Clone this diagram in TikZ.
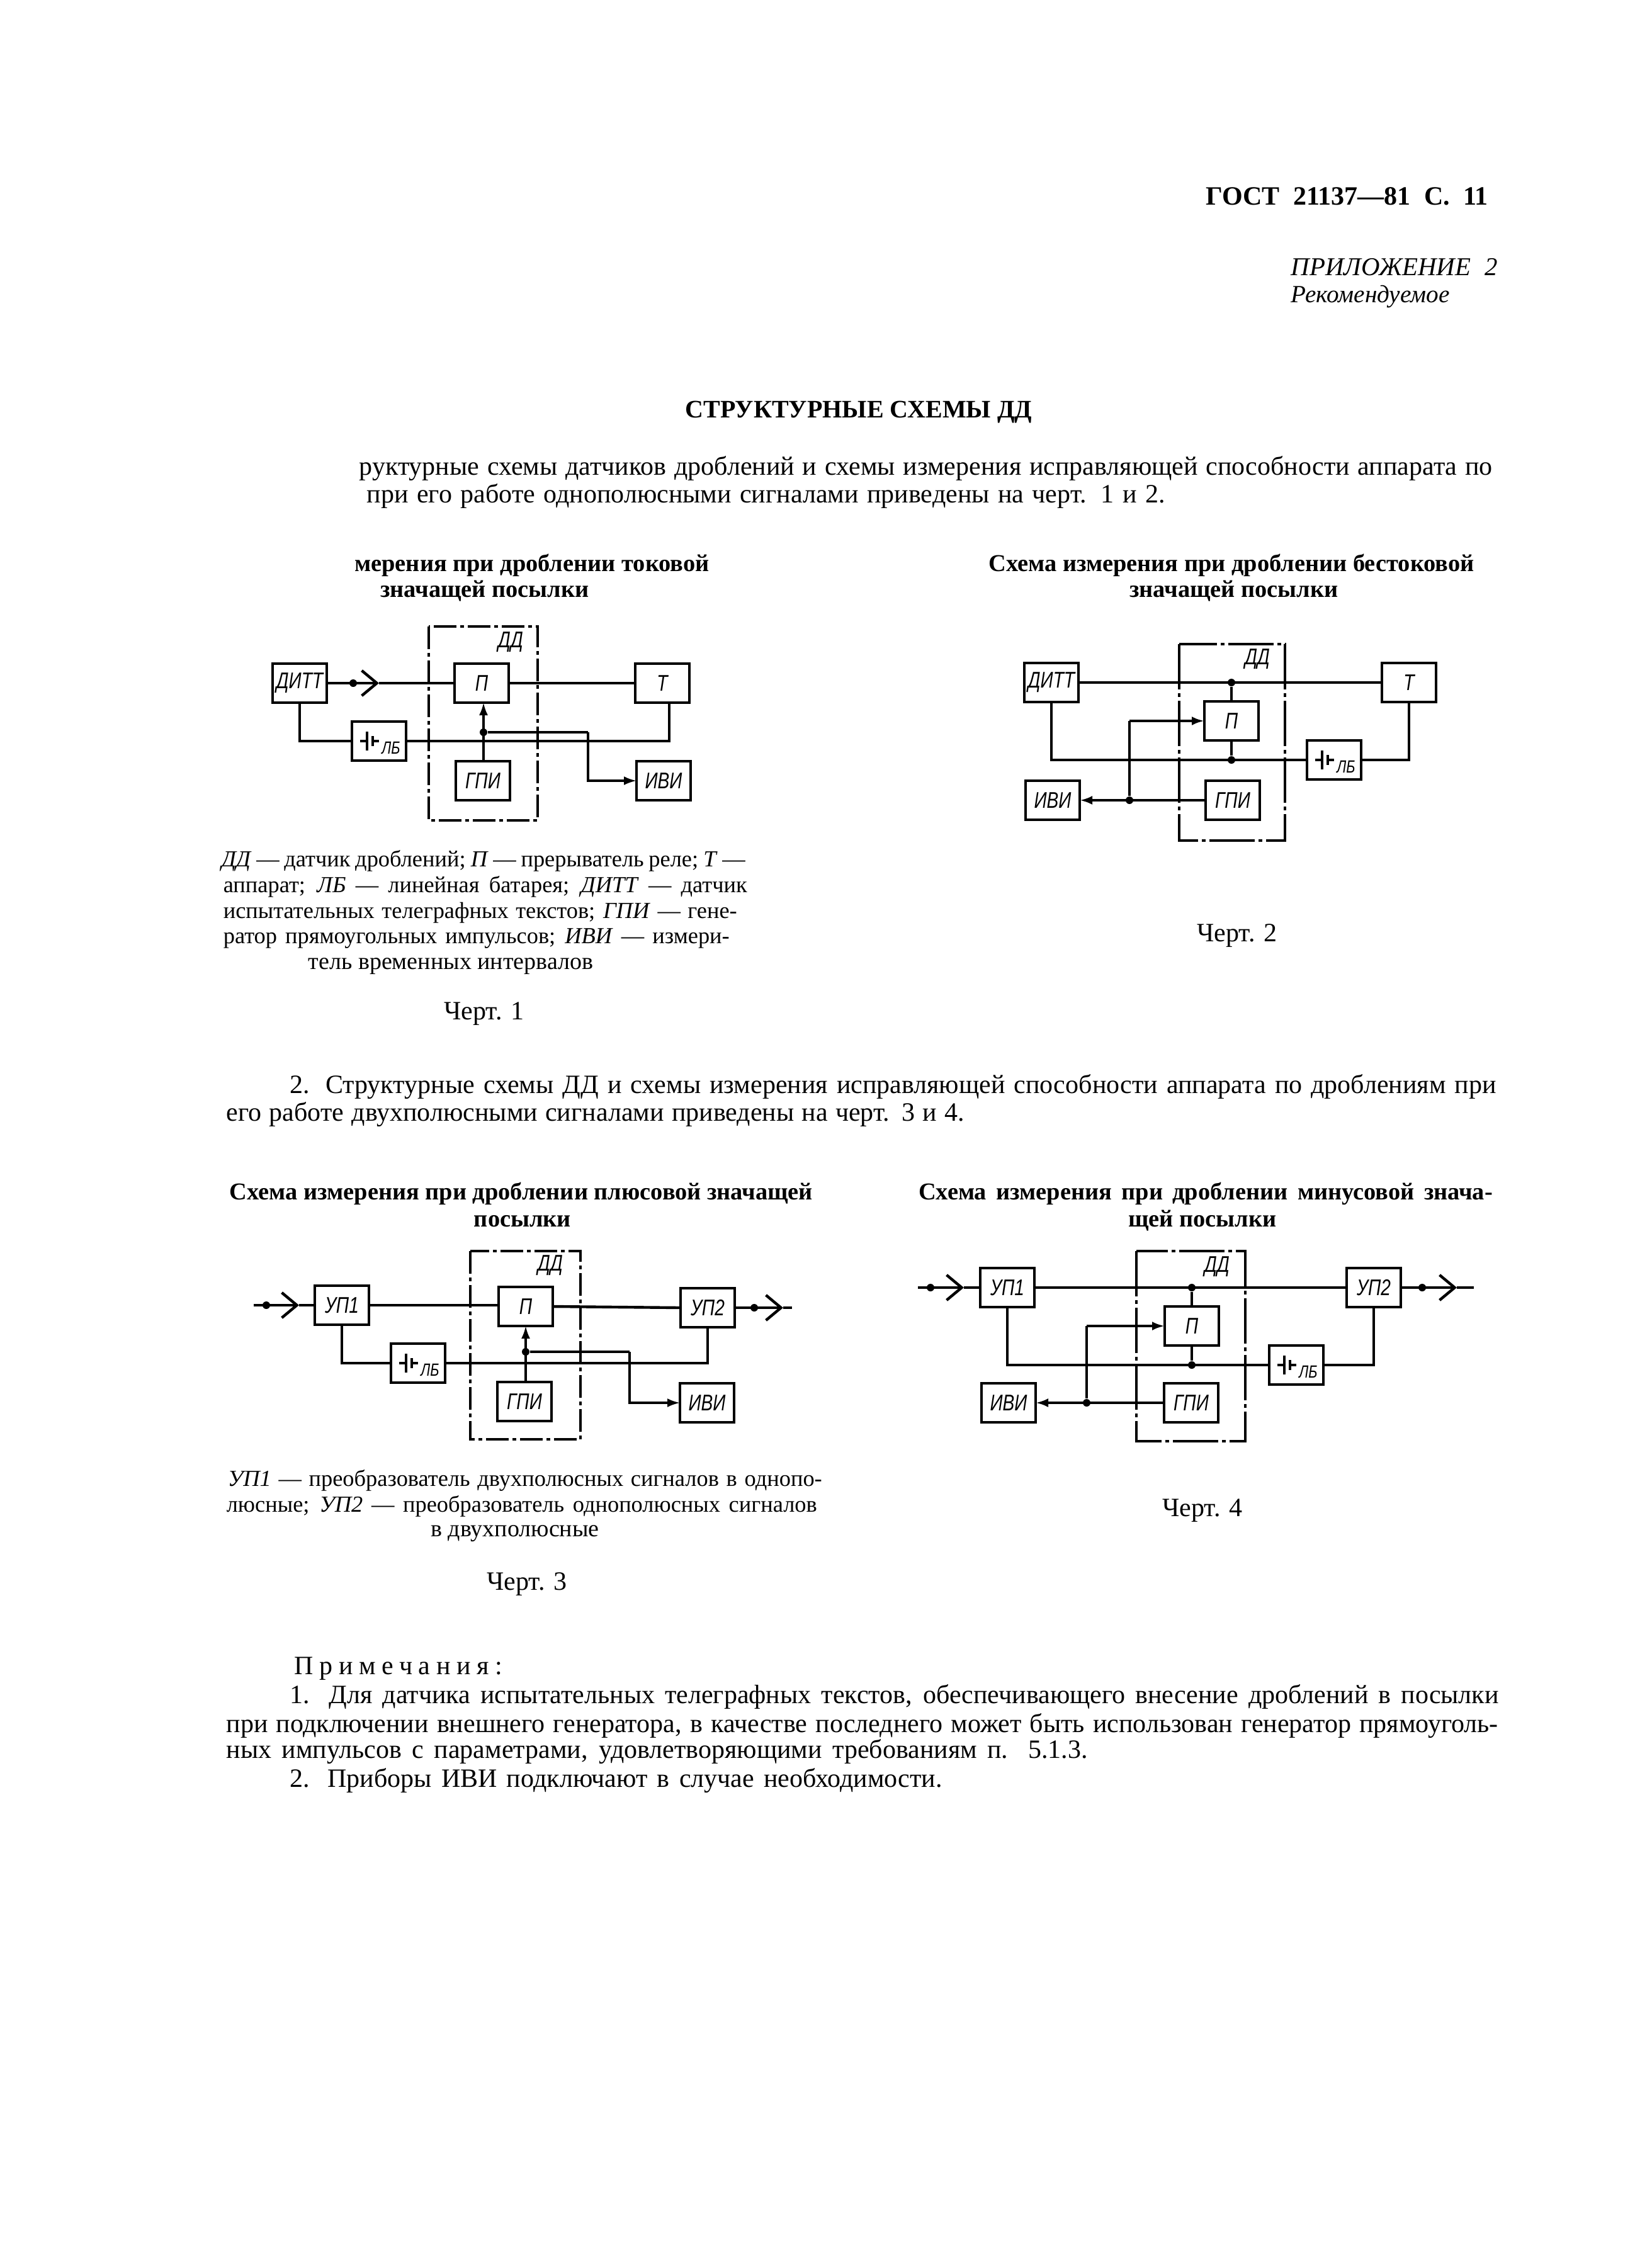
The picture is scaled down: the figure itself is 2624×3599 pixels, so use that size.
\documentclass[tikz,border=0pt]{standalone}
\usepackage{fontspec}
\setmainfont{Liberation Serif}
\newfontfamily\boxfont[FakeStretch=0.78]{Liberation Sans}
\newfontfamily\razrfont[LetterSpace=23]{Liberation Serif}
\usetikzlibrary{arrows.meta}
\newcommand{\rasp}[2]{\makebox[#1pt][s]{#2}}
\tikzset{
  blok/.style={draw, line width=1.2pt, minimum width=21.5pt, minimum height=15.5pt, inner sep=0pt, outer sep=0pt,
    font=\boxfont\itshape\fontsize{9}{10}\selectfont},
  ramka/.style={line width=0.8pt, dash pattern=on 9pt off 1.5pt on 1.5pt off 1.5pt},
  ramkb/.style={line width=0.8pt, dash pattern=on 18pt off 1.5pt on 1.5pt off 1.5pt},
  svyaz/.style={line width=1.1pt},
  tonk/.style={line width=0.8pt},
  tochka/.style={circle, fill=black, inner sep=0pt, minimum size=3pt},
  strelka/.style={-{Latex[length=5pt,width=3.5pt]}},
  ugol/.style={-{Straight Barb[length=6pt,width=10pt]}},
  stroka/.style={anchor=base west, inner sep=0pt, font=\fontsize{10.5}{12}\selectfont},
  legenda/.style={anchor=base west, inner sep=0pt, font=\fontsize{9.1}{11}\selectfont},
  sredina/.style={anchor=base, inner sep=0pt, font=\fontsize{9.5}{11}\selectfont},
  chert/.style={anchor=base, inner sep=0pt, font=\fontsize{10.5}{12}\selectfont},
  nazv/.style={anchor=base, inner sep=0pt, font=\bfseries\fontsize{9.6}{11}\selectfont},
  metka/.style={inner sep=0pt, font=\boxfont\itshape\fontsize{9}{10}\selectfont},
  batareya/.pic={
    \draw[tonk] (-30,0) -- (-19,0);
    \draw[tonk] (-19,-15) -- (-19,15);
    \draw[tonk] (-10,-8) -- (-10,8);
    \draw[tonk] (-10,0) -- (0,0);
    \node[metka, font=\boxfont\itshape\fontsize{7}{8}\selectfont] (-lbl) at (19,11) {ЛБ};
  }
}
\begin{document}
\begin{tikzpicture}[x=0.25pt, y=-0.25pt]
\useasboundingbox (0,0) rectangle (2624,3599);
% page head
\node[stroka, font=\bfseries\fontsize{10.5}{12}\selectfont] (gost) at (1915,325) {\rasp{112}{ГОСТ 21137—81 С. 11}};
\node[stroka, font=\itshape\fontsize{10.2}{12}\selectfont] (pril) at (2050,437) {\rasp{82}{ПРИЛОЖЕНИЕ 2}};
\node[stroka, font=\itshape\fontsize{9.8}{11}\selectfont] (rek) at (2050,480) {Рекомендуемое};
\node[nazv, font=\bfseries\fontsize{10}{12}\selectfont] (zag) at (1364,663) {СТРУКТУРНЫЕ СХЕМЫ ДД};
\node[stroka] (par1a) at (570,754) {\rasp{450}{руктурные схемы датчиков дроблений и схемы измерения исправляющей способности аппарата по}};
\node[stroka] (par1b) at (582,798) {\rasp{317}{при его работе однополюсными сигналами приведены на черт. 1 и 2.}};
%
% scheme 1
\node[nazv] (t1a) at (845,907) {мерения при дроблении токовой};
\node[nazv] (t1b) at (770,948) {значащей посылки};
\draw[ramka] (681,995) rectangle (854,1303);
\node[metka] (dd1) at (811,1020) {ДД};
\node[blok] (ditt1) at (476,1085) {ДИТТ};
\node[blok] (p1) at (765,1085) {П};
\node[blok] (t1) at (1052,1085) {Т};
\node[blok] (lb1) at (602,1177) {};
\pic (bat1) at (lb1) {batareya};
\node[blok] (gpi1) at (767,1240) {ГПИ};
\node[blok] (ivi1) at (1054,1240) {ИВИ};
\node[tochka] (a1) at (561,1085) {};
\node[tochka] (b1) at (768,1163) {};
\coordinate (k1) at (602,1085);
\coordinate (c1) at (934,1163);
\draw[svyaz, ugol] (ditt1.east) -- (k1);
\draw[svyaz] (k1) -- (p1.west);
\draw[svyaz] (p1.east) -- (t1.west);
\draw[tonk] (ditt1.south) |- (lb1.west);
\draw[svyaz] (lb1.east) -| ([xshift=2.75pt]t1.south);
\draw[tonk, strelka] (gpi1.north -| b1) -- (p1.south -| b1);
\draw[svyaz] (b1) -- (c1);
\draw[tonk, strelka] (c1) |- (ivi1.west);
%
% scheme 2
\node[nazv] (t2a) at (1956,907) {Схема измерения при дроблении бестоковой};
\node[nazv] (t2b) at (1960,948) {значащей посылки};
\draw[ramkb] (1873,1023) rectangle (2041,1335);
\node[metka] (dd2) at (1997,1047) {ДД};
\node[blok] (ditt2) at (1670,1084) {ДИТТ};
\node[blok] (t2) at (2238,1084) {Т};
\node[blok] (p2) at (1956,1145) {П};
\node[blok] (lb2) at (2119,1207) {};
\pic (bat2) at (lb2) {batareya};
\node[blok] (gpi2) at (1958,1271) {ГПИ};
\node[blok] (ivi2) at (1672,1271) {ИВИ};
\node[tochka] (a2) at (1956,1084) {};
\node[tochka] (b2) at (1956,1207) {};
\node[tochka] (c2) at (1794,1271) {};
\draw[svyaz] (ditt2.east) -- (t2.west);
\draw[tonk] (a2) -- (p2.north);
\draw[tonk] (p2.south) -- (b2);
\draw[svyaz] (ditt2.south) |- (lb2.west);
\draw[svyaz] (lb2.east) -| (t2.south);
\draw[svyaz, strelka] (gpi2.west) -- (ivi2.east);
\draw[tonk] (c2) -- (c2 |- p2);
\draw[svyaz, strelka] (c2 |- p2) -- (p2.west);
%
\node[legenda] (leg1) at (351,1376) {\rasp{208}{\textit{ДД} — датчик дроблений; \textit{П} — прерыватель реле; \textit{Т} —}};
\node[legenda] (leg2) at (354,1417) {\rasp{208}{аппарат; \textit{ЛБ} — линейная батарея; \textit{ДИТТ} — датчик}};
\node[legenda] (leg3) at (354,1458) {\rasp{204}{испытательных телеграфных текстов; \textit{ГПИ} — гене-}};
\node[legenda] (leg4) at (354,1498) {\rasp{201}{ратор прямоугольных импульсов; \textit{ИВИ} — измери-}};
\node[sredina] (leg5) at (716,1539) {тель временных интервалов};
\node[chert] (cher1) at (769,1619) {Черт. 1};
\node[chert] (cher2) at (1965,1495) {Черт. 2};
%
\node[stroka] (par2a) at (460,1736) {\rasp{479}{2. Структурные схемы ДД и схемы измерения исправляющей способности аппарата по дроблениям при}};
\node[stroka] (par2b) at (359,1780) {\rasp{293}{его работе двухполюсными сигналами приведены на черт. 3 и 4.}};
%
% scheme 3
\node[nazv] (t3a) at (828,1905) {Схема измерения при дроблении плюсовой значащей};
\node[nazv] (t3b) at (830,1948) {посылки};
\draw[ramka] (747,1987) rectangle (922,2286);
\node[metka] (dd3) at (874,2010) {ДД};
\node[blok] (up31) at (543,2073) {УП1};
\node[blok] (p3) at (835,2075) {П};
\node[blok] (up32) at (1124,2077) {УП2};
\node[blok] (lb3) at (664,2165) {};
\pic (bat3) at (lb3) {batareya};
\node[blok] (gpi3) at (833,2226) {ГПИ};
\node[blok] (ivi3) at (1123,2228) {ИВИ};
\node[tochka] (a3) at (423,2073) {};
\node[tochka] (b3) at (1198,2077) {};
\node[tochka] (c3) at (835,2147) {};
\coordinate (v3) at (403,2073);
\coordinate (k3) at (475,2073);
\coordinate (m3) at (1244,2077);
\coordinate (w3) at (1258,2077);
\coordinate (e3) at (1000,2147);
\draw[svyaz, ugol] (v3) -- (k3);
\draw[svyaz] (k3) -- (up31.west);
\draw[svyaz] (up31.east) -- (p3.west |- up31);
\draw[svyaz] (p3.east) -- (up32.west);
\draw[svyaz, ugol] (up32.east) -- (m3);
\draw[svyaz] (m3) -- (w3);
\draw[tonk] (up31.south) |- (lb3.west);
\draw[svyaz] (lb3.east) -| (up32.south);
\draw[tonk, strelka] (c3 |- gpi3.north) -- (p3.south);
\draw[svyaz] (c3) -- (e3);
\draw[tonk, strelka] (e3) |- (ivi3.west);
%
% scheme 4
\node[nazv] (t4a) at (1915,1905) {\rasp{228}{Схема измерения при дроблении минусовой знача-}};
\node[nazv] (t4b) at (1910,1948) {щей посылки};
\draw[ramkb] (1805,1987) rectangle (1978,2289);
\node[metka] (dd4) at (1933,2012) {ДД};
\node[blok] (up41) at (1600,2045) {УП1};
\node[blok] (up42) at (2182,2045) {УП2};
\node[blok] (p4) at (1893,2106) {П};
\node[blok] (lb4) at (2059,2168) {};
\pic (bat4) at (lb4) {batareya};
\node[blok] (gpi4) at (1892,2228) {ГПИ};
\node[blok] (ivi4) at (1602,2228) {ИВИ};
\node[tochka] (a4) at (1478,2045) {};
\node[tochka] (b4) at (2259,2045) {};
\node[tochka] (c4) at (1893,2045) {};
\node[tochka] (d4) at (1893,2168) {};
\node[tochka] (e4) at (1726,2228) {};
\coordinate (v4) at (1458,2045);
\coordinate (k4) at (1531,2045);
\coordinate (m4) at (2314,2045);
\coordinate (w4) at (2341,2045);
\draw[svyaz, ugol] (v4) -- (k4);
\draw[svyaz] (k4) -- (up41.west);
\draw[svyaz] (up41.east) -- (up42.west);
\draw[svyaz, ugol] (up42.east) -- (m4);
\draw[svyaz] (m4) -- (w4);
\draw[tonk] (c4) -- (p4.north);
\draw[tonk] (p4.south) -- (d4);
\draw[svyaz] (up41.south) |- (lb4.west);
\draw[svyaz] (lb4.east) -| (up42.south);
\draw[svyaz, strelka] (gpi4.west) -- (ivi4.east);
\draw[tonk] (e4) -- (e4 |- p4);
\draw[svyaz, strelka] (e4 |- p4) -- (p4.west);
%
\node[legenda] (leg6) at (361,2360) {\rasp{236}{\textit{УП1} — преобразователь двухполюсных сигналов в однопо-}};
\node[legenda] (leg7) at (359,2401) {\rasp{234.5}{люсные; \textit{УП2} — преобразователь однополюсных сигналов}};
\node[sredina] (leg8) at (818,2440) {в двухполюсные};
\node[chert] (cher3) at (837,2525) {Черт. 3};
\node[chert] (cher4) at (1910,2408) {Черт. 4};
%
% notes
\node[stroka, font=\razrfont\fontsize{10.5}{12}\selectfont] (prim) at (467,2659) {Примечания:};
\node[stroka] (n1a) at (460,2705) {\rasp{480}{1. Для датчика испытательных телеграфных текстов, обеспечивающего внесение дроблений в посылки}};
\node[stroka] (n1b) at (359,2751) {\rasp{505}{при подключении внешнего генератора, в качестве последнего может быть использован генератор прямоуголь-}};
\node[stroka] (n1c) at (359,2792) {\rasp{342}{ных импульсов с параметрами, удовлетворяющими требованиям п. 5.1.3.}};
\node[stroka] (n2) at (460,2838) {\rasp{259}{2. Приборы ИВИ подключают в случае необходимости.}};
\end{tikzpicture}
\end{document}
